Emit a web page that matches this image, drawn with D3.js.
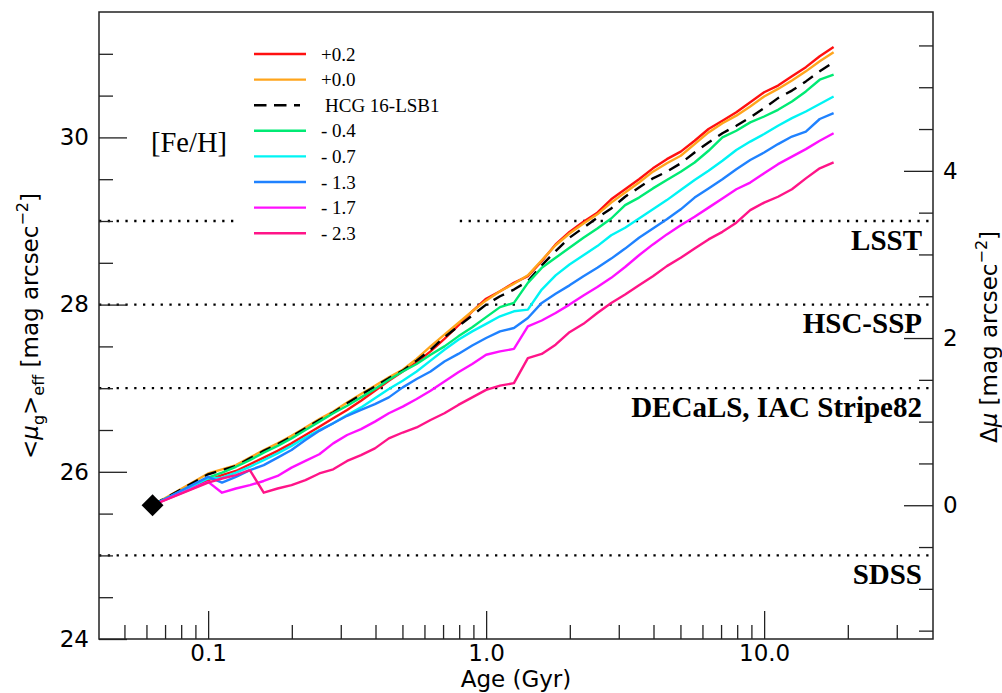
<!DOCTYPE html>
<html lang="en">
<head>
<meta charset="UTF-8">
<title>Surface brightness fading</title>
<script src="https://d3js.org/d3.v7.min.js"></script>
<style>
  body { margin: 0; background: #fff; }
  svg { display: block; }
</style>
</head>
<body>
<div id="chart"></div>
<script>
// model ages (Gyr)
const ages = [0.0631, 0.1, 0.1122, 0.1259, 0.1413, 0.1585, 0.1778, 0.1995, 0.2239, 0.2512,
  0.2818, 0.3162, 0.3548, 0.3981, 0.4467, 0.5012, 0.5623, 0.6310, 0.7079, 0.7943,
  0.8913, 1.0, 1.122, 1.259, 1.413, 1.585, 1.778, 1.995, 2.239, 2.512,
  2.818, 3.162, 3.548, 3.981, 4.467, 5.012, 5.623, 6.310, 7.079, 7.943,
  8.913, 10.0, 11.22, 12.59, 14.13, 15.85, 17.78];

// <mu_g>_eff for each [Fe/H]
const fehP02 = [25.6, 25.90, 25.96, 26.01, 26.09, 26.17, 26.25, 26.34, 26.44, 26.54,
  26.64, 26.74, 26.85, 26.97, 27.09, 27.20, 27.31, 27.44, 27.59, 27.75,
  27.92, 28.07, 28.16, 28.26, 28.34, 28.52, 28.72, 28.87, 28.99, 29.10,
  29.26, 29.38, 29.50, 29.63, 29.74, 29.83, 29.96, 30.10, 30.20, 30.30,
  30.42, 30.54, 30.62, 30.73, 30.84, 30.97, 31.08];
const fehP00 = [25.6, 25.98, 26.03, 26.08, 26.17, 26.26, 26.34, 26.43, 26.53, 26.63,
  26.72, 26.83, 26.93, 27.03, 27.13, 27.22, 27.35, 27.50, 27.64, 27.78,
  27.92, 28.05, 28.16, 28.25, 28.35, 28.53, 28.71, 28.85, 28.97, 29.08,
  29.22, 29.34, 29.46, 29.59, 29.69, 29.78, 29.92, 30.06, 30.17, 30.26,
  30.37, 30.49, 30.58, 30.68, 30.79, 30.91, 31.02];
const hcg16 = [25.6, 25.97, 26.02, 26.07, 26.16, 26.25, 26.33, 26.42, 26.52, 26.62,
  26.71, 26.82, 26.92, 27.02, 27.12, 27.21, 27.33, 27.46, 27.61, 27.74,
  27.87, 28.00, 28.10, 28.18, 28.28, 28.47, 28.64, 28.80, 28.92, 29.04,
  29.15, 29.29, 29.40, 29.51, 29.59, 29.69, 29.82, 29.94, 30.05, 30.14,
  30.24, 30.35, 30.47, 30.56, 30.67, 30.79, 30.90];
const fehM04 = [25.6, 25.93, 25.99, 26.06, 26.14, 26.23, 26.31, 26.40, 26.50, 26.60,
  26.70, 26.79, 26.89, 26.99, 27.10, 27.20, 27.29, 27.40, 27.50, 27.62,
  27.73, 27.85, 27.97, 28.02, 28.26, 28.44, 28.56, 28.68, 28.80, 28.91,
  29.03, 29.19, 29.28, 29.39, 29.49, 29.59, 29.70, 29.84, 30.00, 30.08,
  30.18, 30.25, 30.33, 30.43, 30.55, 30.69, 30.75];
const fehM07 = [25.6, 25.92, 25.93, 25.99, 26.06, 26.14, 26.22, 26.31, 26.41, 26.50,
  26.58, 26.68, 26.77, 26.88, 26.99, 27.09, 27.20, 27.33, 27.46, 27.58,
  27.68, 27.77, 27.86, 27.92, 27.94, 28.18, 28.35, 28.48, 28.59, 28.70,
  28.83, 28.92, 29.03, 29.14, 29.25, 29.37, 29.49, 29.60, 29.72, 29.85,
  29.95, 30.04, 30.14, 30.23, 30.31, 30.40, 30.49];
const fehM13 = [25.6, 25.94, 25.87, 25.94, 26.02, 26.08, 26.17, 26.26, 26.38, 26.49,
  26.58, 26.67, 26.74, 26.81, 26.89, 27.01, 27.11, 27.20, 27.32, 27.41,
  27.51, 27.60, 27.68, 27.72, 27.84, 28.02, 28.13, 28.23, 28.34, 28.44,
  28.55, 28.67, 28.80, 28.91, 29.02, 29.14, 29.28, 29.39, 29.50, 29.62,
  29.73, 29.82, 29.92, 30.01, 30.07, 30.22, 30.29];
const fehM17 = [25.6, 25.88, 25.75, 25.80, 25.84, 25.89, 25.95, 26.05, 26.13, 26.21,
  26.34, 26.44, 26.51, 26.60, 26.70, 26.78, 26.87, 26.97, 27.08, 27.19,
  27.29, 27.40, 27.44, 27.47, 27.74, 27.81, 27.90, 28.00, 28.11, 28.21,
  28.32, 28.45, 28.59, 28.72, 28.84, 28.95, 29.05, 29.16, 29.27, 29.38,
  29.46, 29.57, 29.68, 29.77, 29.86, 29.96, 30.05];
const fehM23 = [25.6, 25.87, 25.92, 25.96, 26.02, 25.75, 25.80, 25.84, 25.90, 25.98,
  26.03, 26.13, 26.20, 26.28, 26.40, 26.47, 26.53, 26.62, 26.70, 26.80,
  26.89, 26.98, 27.03, 27.06, 27.36, 27.41, 27.52, 27.67, 27.77, 27.90,
  28.02, 28.12, 28.23, 28.34, 28.46, 28.56, 28.67, 28.78, 28.87, 28.98,
  29.13, 29.22, 29.29, 29.38, 29.51, 29.63, 29.70];

const seriesLabels = ["+0.2", "+0.0", "HCG 16-LSB1", "- 0.4", "- 0.7", "- 1.3", "- 1.7", "- 2.3"];
const seriesColors = ["#ff1010", "#ffa51c", "#000000", "#00ea74", "#00f4f4", "#1f82ff", "#ff10ff", "#ff1488"];
const seriesValues = [fehP02, fehP00, hcg16, fehM04, fehM07, fehM13, fehM17, fehM23];

// observed galaxy today
const startAge = 0.0631;
const startMu = 25.6;

// survey depth limits
const surveyMu = [29, 28, 27, 25];
const surveyNames = ["LSST", "HSC-SSP", "DECaLS, IAC Stripe82", "SDSS"];

const xMajor = [0.1, 1, 10];
const xMajorLabels = ["0.1", "1.0", "10.0"];
const xMinor = [0.05, 0.06, 0.07, 0.08, 0.09, 0.2, 0.3, 0.4, 0.5, 0.6, 0.7, 0.8, 0.9,
  2, 3, 4, 5, 6, 7, 8, 9, 20, 30];
const yMajor = [24, 26, 28, 30];
const yMinor = [24.5, 25, 25.5, 26.5, 27, 27.5, 28.5, 29, 29.5, 30.5, 31];
const dMajor = [0, 2, 4];
const dMinor = [-1.5, -1, -0.5, 0.5, 1, 1.5, 2.5, 3, 3.5, 4.5, 5, 5.5];

// layout
const W = 1002, H = 693;
const pLeft = 99, pRight = 933, pTop = 12, pBottom = 639;
const sans = "DejaVu Sans", serif = "Liberation Serif";

const svg = d3.select("#chart").append("svg")
  .attr("width", W).attr("height", H);

const x = d3.scaleLog().domain([0.0405, 40.5]).range([pLeft, pRight]);
const y = d3.scaleLinear().domain([24, 31.5]).range([pBottom, pTop]);
const yR = d3.scaleLinear().domain([24 - startMu, 31.5 - startMu]).range([pBottom, pTop]);

// survey limit lines
const dotted = svg.append("g");
surveyMu.forEach(function(m, i) {
  dotted.append("line")
    .attr("x1", pLeft).attr("x2", pRight)
    .attr("y1", y(m)).attr("y2", y(m))
    .attr("stroke", "#000").attr("stroke-width", 2.3)
    .attr("stroke-dasharray", "2.3,6.5");
  dotted.append("text")
    .attr("x", pRight - 11).attr("y", y(m) + 28.5)
    .attr("text-anchor", "end")
    .attr("font-family", serif).attr("font-weight", "bold").attr("font-size", 29)
    .text(surveyNames[i]);
});

// legend background hides the LSST line behind it
svg.append("rect")
  .attr("x", 236).attr("y", 32).attr("width", 219).attr("height", 212)
  .attr("fill", "#fff");

// model curves
const line = d3.line()
  .x(function(d) { return x(d[0]); })
  .y(function(d) { return y(d[1]); });

seriesValues.forEach(function(vals, i) {
  const pts = ages.map(function(a, j) { return [a, vals[j]]; });
  svg.append("path")
    .datum(pts)
    .attr("fill", "none")
    .attr("stroke", seriesColors[i])
    .attr("stroke-width", 2.4)
    .attr("stroke-linejoin", "round")
    .attr("stroke-dasharray", i === 2 ? "12,8" : null)
    .attr("d", line);
});

// present day point
svg.append("path")
  .attr("d", d3.symbol(d3.symbolSquare, 240)())
  .attr("transform", "translate(" + x(startAge) + "," + y(startMu) + ") rotate(45)")
  .attr("fill", "#000");

// axes
function styleAxis(g) {
  g.select(".domain").remove();
  g.selectAll("line").attr("stroke", "#222").attr("stroke-width", 1.3);
  g.selectAll("text").attr("font-family", sans).attr("font-size", 23).attr("fill", "#000");
}

svg.append("g")
  .attr("transform", "translate(0," + pBottom + ")")
  .call(d3.axisBottom(x).tickValues(xMinor).tickSize(-14).tickSizeOuter(0).tickFormat(""))
  .call(styleAxis);
svg.append("g")
  .attr("transform", "translate(0," + pBottom + ")")
  .call(d3.axisBottom(x).tickValues(xMajor).tickSize(-28).tickSizeOuter(0).tickPadding(6)
    .tickFormat(function(d, i) { return xMajorLabels[i]; }))
  .call(styleAxis);

svg.append("g")
  .attr("transform", "translate(" + pLeft + ",0)")
  .call(d3.axisLeft(y).tickValues(yMinor).tickSize(-14).tickSizeOuter(0).tickFormat(""))
  .call(styleAxis);
svg.append("g")
  .attr("transform", "translate(" + pLeft + ",0)")
  .call(d3.axisLeft(y).tickValues(yMajor).tickSize(-28).tickSizeOuter(0).tickPadding(10)
    .tickFormat(d3.format("d")))
  .call(styleAxis);

svg.append("g")
  .attr("transform", "translate(" + pRight + ",0)")
  .call(d3.axisRight(yR).tickValues(dMinor).tickSize(-14).tickSizeOuter(0).tickFormat(""))
  .call(styleAxis);
svg.append("g")
  .attr("transform", "translate(" + pRight + ",0)")
  .call(d3.axisRight(yR).tickValues(dMajor).tickSize(-29).tickSizeOuter(0).tickPadding(10)
    .tickFormat(d3.format("d")))
  .call(styleAxis);

// frame
svg.append("rect")
  .attr("x", pLeft).attr("y", pTop)
  .attr("width", pRight - pLeft).attr("height", pBottom - pTop)
  .attr("fill", "none").attr("stroke", "#222").attr("stroke-width", 1.5);

// axis titles
svg.append("text")
  .attr("x", (pLeft + pRight) / 2).attr("y", 687)
  .attr("text-anchor", "middle")
  .attr("font-family", sans).attr("font-size", 23)
  .text("Age (Gyr)");

const yt = svg.append("text")
  .attr("transform", "translate(38,326) rotate(-90)")
  .attr("text-anchor", "middle")
  .attr("font-family", sans).attr("font-size", 23);
yt.append("tspan").text("<");
yt.append("tspan").attr("font-style", "italic").text("\u03bc");
yt.append("tspan").attr("font-size", 16).attr("dy", 6).text("g");
yt.append("tspan").attr("dy", -6).text(">");
yt.append("tspan").attr("font-size", 16).attr("dy", 6).text("eff");
yt.append("tspan").attr("dy", -6).text(" [mag arcsec");
yt.append("tspan").attr("font-size", 16).attr("dy", -10).text("\u22122");
yt.append("tspan").attr("dy", 10).text("]");

const yr = svg.append("text")
  .attr("transform", "translate(997,337) rotate(-90)")
  .attr("text-anchor", "middle")
  .attr("font-family", sans).attr("font-size", 23);
yr.append("tspan").text("\u0394");
yr.append("tspan").attr("font-style", "italic").text("\u03bc");
yr.append("tspan").text(" [mag arcsec");
yr.append("tspan").attr("font-size", 16).attr("dy", -10).text("\u22122");
yr.append("tspan").attr("dy", 10).text("]");

// [Fe/H] title and legend
svg.append("text")
  .attr("x", 151).attr("y", 152)
  .attr("font-family", serif).attr("font-size", 28.5)
  .text("[Fe/H]");

const legend = svg.append("g");
seriesLabels.forEach(function(lab, i) {
  const ly = 54 + i * 25.6;
  legend.append("line")
    .attr("x1", 254).attr("x2", i === 2 ? 300 : 306)
    .attr("y1", ly).attr("y2", ly)
    .attr("stroke", seriesColors[i]).attr("stroke-width", 2.4)
    .attr("stroke-dasharray", i === 2 ? "12.5,7.5" : null);
  legend.append("text")
    .attr("x", i === 2 ? 325 : 321).attr("y", ly + 6.5)
    .attr("font-family", serif).attr("font-size", 19)
    .text(lab);
});
</script>
</body>
</html>
